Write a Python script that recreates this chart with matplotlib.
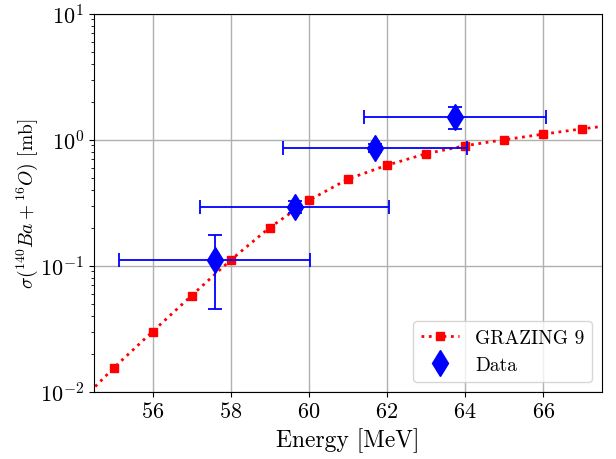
import numpy as np
import matplotlib
matplotlib.use('Agg')
import matplotlib.pyplot as plt

# ─── DATA ─────────────────────────────────────────────────────────────────────
grazing_energy = [54, 55, 56, 57, 58, 59, 60, 61, 62, 63, 64, 65, 66, 67, 68]
grazing_sigma = [0.0075, 0.0154, 0.030, 0.058, 0.111, 0.201, 0.330, 0.487,
                 0.628, 0.774, 0.896, 1.00, 1.107, 1.22, 1.33]

data_energy = [57.59, 59.64, 61.69, 63.74]
data_energy_err = [2.45, 2.42, 2.36, 2.34]
data_sigma = [0.11, 0.292, 0.86, 1.52]
data_sigma_lo = [0.065, 0.032, 0.06, 0.31]
data_sigma_hi = [0.065, 0.034, 0.07, 0.31]

plt.rcParams['mathtext.fontset'] = 'cm'
plt.rcParams['font.family'] = 'serif'
plt.rcParams['font.serif'] = ['cmr10']
plt.rcParams['axes.formatter.use_mathtext'] = True
plt.rcParams['axes.unicode_minus'] = False

fig = plt.figure(figsize=(6.16, 4.6), dpi=100)
ax = fig.add_axes([0.1526, 0.1463, 0.8244, 0.8217])

ax.plot(grazing_energy, grazing_sigma, ':', color='red', lw=2,
        marker='s', markersize=6, label='GRAZING 9')
# error bars without legend entry, markers drawn separately
ax.errorbar(data_energy, data_sigma, xerr=data_energy_err,
            yerr=[data_sigma_lo, data_sigma_hi], fmt='none', ecolor='blue',
            capsize=5, elinewidth=1.3, capthick=1.3)
ax.plot(data_energy, data_sigma, 'd', color='blue', markersize=13,
        label='Data')

ax.set_yscale('log')
ax.set_xlim(54.5, 67.5)
ax.set_ylim(1e-2, 1e1)
ax.set_xticks([56, 58, 60, 62, 64, 66])
ax.grid(True, which='major', color='#b0b0b0', lw=1)
ax.tick_params(labelsize=16)

ax.set_xlabel('Energy [MeV]', fontsize=17)
ax.set_ylabel(r'$\sigma(^{140}Ba+^{16}O)$ [mb]', fontsize=14, labelpad=0)

ax.legend(loc='lower right', fontsize=14)

fig.savefig('out.png', dpi=100)
